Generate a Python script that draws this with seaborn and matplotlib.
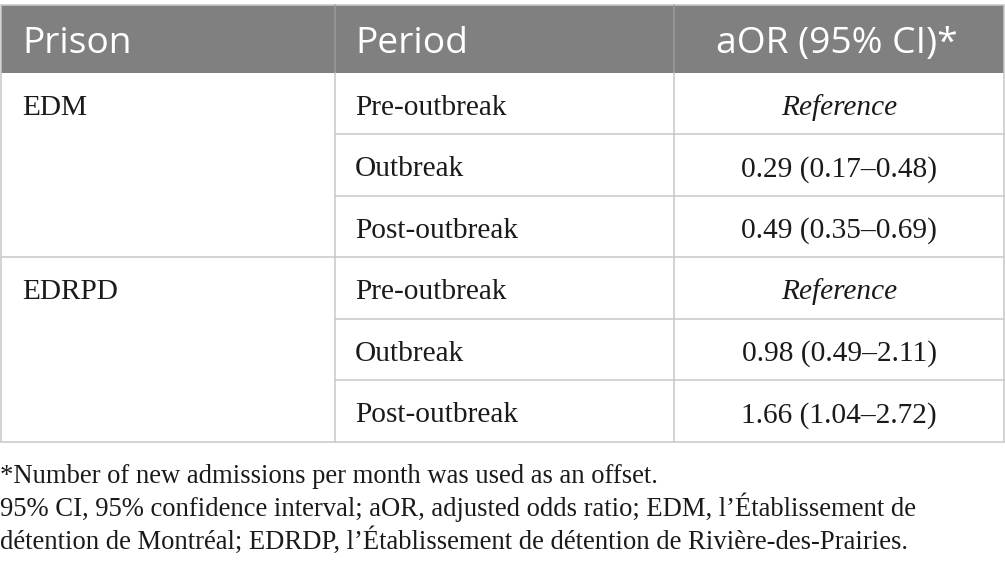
import matplotlib
matplotlib.use("Agg")
import matplotlib.pyplot as plt
import seaborn as sns
from matplotlib.patches import Rectangle

# ---- data ----
headers = ["Prison", "Period", "aOR (95% CI)*"]
prisons = ["EDM", "EDRPD"]
periods = ["Pre-outbreak", "Outbreak", "Post-outbreak"]
aor = [None, 0.29, 0.49, None, 0.98, 1.66]
ci_low = [None, 0.17, 0.35, None, 0.49, 1.04]
ci_high = [None, 0.48, 0.69, None, 2.11, 2.72]
reference_label = "Reference"
footnotes = [
    "*Number of new admissions per month was used as an offset.",
    "95% CI, 95% confidence interval; aOR, adjusted odds ratio; EDM, l\u2019\u00c9tablissement de",
    "d\u00e9tention de Montr\u00e9al; EDRDP, l\u2019\u00c9tablissement de d\u00e9tention de Rivi\u00e8re-des-Prairies.",
]

sns.set_theme(style="white")
plt.rcParams["font.family"] = ["Liberation Serif", "DejaVu Serif"]

W, H, DPI = 1005, 568, 100
fig = plt.figure(figsize=(W / DPI, H / DPI), dpi=DPI)
ax = fig.add_axes([0, 0, 1, 1])
ax.set_xlim(0, W)
ax.set_ylim(H, 0)
ax.axis("off")

header_col = "#7f807f"
line_col = "#c8c8c8"
text_col = "#1a1a1a"
lw = 1.1

col_x = [0.5, 335, 674, 1004]
head_top, head_bot = 4.5, 72.7
row_h = 61.55
head_base = 53.3
row_base = 42.0

# header band
ax.add_patch(Rectangle((col_x[0], head_top), col_x[-1] - col_x[0], head_bot - head_top,
                       facecolor=header_col, edgecolor="none"))
ax.plot([col_x[0], col_x[-1]], [head_top, head_top], color=line_col, lw=lw)
for cx in col_x[1:-1]:
    ax.plot([cx, cx], [head_top, head_bot], color="#9a9b9a", lw=lw)

head_fs = 26.8
hfam = ["Open Sans", "DejaVu Sans"]
ax.text(22, head_base, headers[0], color="white", fontsize=head_fs, family=hfam,
        ha="left", va="baseline")
ax.text(355, head_base, headers[1], color="white", fontsize=head_fs, family=hfam,
        ha="left", va="baseline")
ax.text((col_x[2] + col_x[3]) / 2 - 2, head_base, headers[2], color="white",
        fontsize=head_fs, family=hfam, ha="center", va="baseline")

body_fs = 21.2
n_rows = len(prisons) * len(periods)
bottom = head_bot + n_rows * row_h
# outer border
ax.plot([col_x[0], col_x[0]], [head_top, bottom], color=line_col, lw=lw)
ax.plot([col_x[-1], col_x[-1]], [head_top, bottom], color=line_col, lw=lw)
ax.plot([col_x[0], col_x[-1]], [bottom, bottom], color=line_col, lw=lw)
for cx in col_x[1:-1]:
    ax.plot([cx, cx], [head_bot, bottom], color=line_col, lw=lw)

for g, prison in enumerate(prisons):
    gy = head_bot + g * len(periods) * row_h
    if g > 0:
        ax.plot([col_x[0], col_x[-1]], [gy, gy], color=line_col, lw=lw)
    ax.text(22, gy + row_base, prison, fontsize=body_fs, ha="left", va="baseline", color=text_col)
    for r, period in enumerate(periods):
        i = g * len(periods) + r
        y0 = head_bot + i * row_h
        if r > 0:
            ax.plot([col_x[1], col_x[-1]], [y0, y0], color=line_col, lw=lw)
        yb = y0 + row_base
        ax.text(355, yb, period, fontsize=body_fs, ha="left", va="baseline", color=text_col)
        if aor[i] is None:
            ax.text((col_x[2] + col_x[3]) / 2, yb, reference_label, fontsize=body_fs,
                    style="italic", ha="center", va="baseline", color=text_col)
        else:
            s = f"{aor[i]:.2f} ({ci_low[i]:.2f}\u2013{ci_high[i]:.2f})"
            ax.text((col_x[2] + col_x[3]) / 2, yb, s, fontsize=body_fs,
                    ha="center", va="baseline", color=text_col)

foot_fs = 19.2
foot_base = [483, 516, 549]
for fy, note in zip(foot_base, footnotes):
    ax.text(0, fy, note, fontsize=foot_fs, ha="left", va="baseline", color=text_col)

fig.savefig("out.png", dpi=DPI)
